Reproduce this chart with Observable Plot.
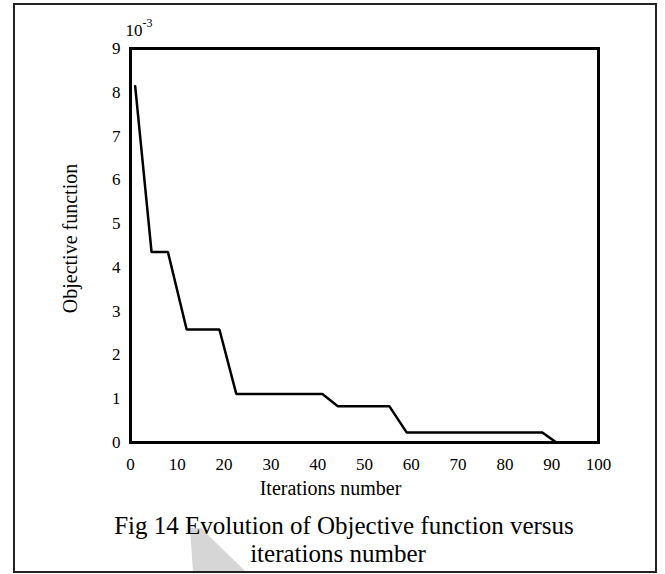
<!DOCTYPE html>
<html>
<head>
<meta charset="utf-8">
<script src="https://cdn.jsdelivr.net/npm/d3@7"></script>
<script src="https://cdn.jsdelivr.net/npm/@observablehq/plot@0.6"></script>
<style>
  html, body { margin: 0; padding: 0; background: #fff; }
  #wrap { position: relative; width: 665px; height: 574px; overflow: hidden; font-family: "Liberation Serif", "Times New Roman", serif; }
  #border { position: absolute; left: 13px; top: 3px; width: 644px; height: 570px; box-sizing: border-box; border: 2px solid #222; }
  #chart { position: absolute; left: 0; top: 0; }
  #chart svg, #chart svg text, #chart svg g { font-family: "Liberation Serif", serif !important; font-variant: normal !important; font-variant-numeric: normal !important; }
  .cap { position: absolute; font-size: 25px; line-height: 27px; text-align: center; color: #000; white-space: nowrap; }
  #wedge { position: absolute; left: 0; top: 0; }
</style>
</head>
<body>
<div id="wrap">
  <svg id="wedge" width="665" height="574"><polygon points="190,528 201,528 246,572 193,572" fill="#d6d6d6"/></svg>
  <div id="border"></div>
  <div id="chart"></div>
  <div class="cap" style="left:99px; top:512px; width:490px;">Fig 14 Evolution of Objective function versus</div>
  <div class="cap" style="left:138px; top:540px; width:400px;">iterations number</div>
</div>
<script>
// Data (objective function in units of 1e-3)
const iterations = [1, 4.5, 8, 12, 19, 22.6, 41, 44.3, 55.3, 59, 88, 91];
const objective  = [8.14, 4.35, 4.35, 2.58, 2.58, 1.11, 1.11, 0.83, 0.83, 0.23, 0.23, 0];
const xTicks = [0, 10, 20, 30, 40, 50, 60, 70, 80, 90, 100];
const yTicks = [0, 1, 2, 3, 4, 5, 6, 7, 8, 9];
const xTitle = "Iterations number";
const yTitle = "Objective function";
const exponentBase = "10";
const exponentPower = "-3";

const data = iterations.map((x, i) => ({x, y: objective[i]}));
const serif = "Liberation Serif";

const chart = Plot.plot({
  width: 665,
  height: 500,
  marginLeft: 130,
  marginRight: 67,
  marginTop: 48,
  marginBottom: 58,
  style: {fontFamily: serif, fontSize: "17px", color: "#000", background: "transparent", overflow: "visible"},
  x: {domain: [0, 100]},
  y: {domain: [0, 9]},
  marks: [
    Plot.axisX(xTicks, {tickSize: 0, tickPadding: 15, label: null, fontSize: 17, fontFamily: serif, fontVariant: "normal"}),
    Plot.axisY(yTicks, {tickSize: 0, tickPadding: 10, label: null, fontSize: 17, fontFamily: serif, fontVariant: "normal"}),
    Plot.line(data, {x: "x", y: "y", stroke: "#000", strokeWidth: 2.5, strokeLinejoin: "miter"}),
    Plot.frame({stroke: "#000", strokeWidth: 3}),
    Plot.text([xTitle], {frameAnchor: "bottom", textAnchor: "middle", lineAnchor: "middle", dx: -34, dy: 46, fontSize: 20, fontFamily: serif, fill: "#000"}),
    Plot.text([yTitle], {frameAnchor: "left", textAnchor: "middle", lineAnchor: "middle", rotate: -90, dx: -60, dy: -7, fontSize: 20, fontFamily: serif, fill: "#000"}),
    Plot.text([exponentBase], {frameAnchor: "top-left", textAnchor: "start", lineAnchor: "bottom", dx: -5, dy: -13, fontSize: 17, fontFamily: serif, fill: "#000"}),
    Plot.text([exponentPower], {frameAnchor: "top-left", textAnchor: "start", lineAnchor: "bottom", dx: 12, dy: -22, fontSize: 12, fontFamily: serif, fill: "#000"})
  ]
});
document.getElementById("chart").appendChild(chart);
</script>
</body>
</html>
